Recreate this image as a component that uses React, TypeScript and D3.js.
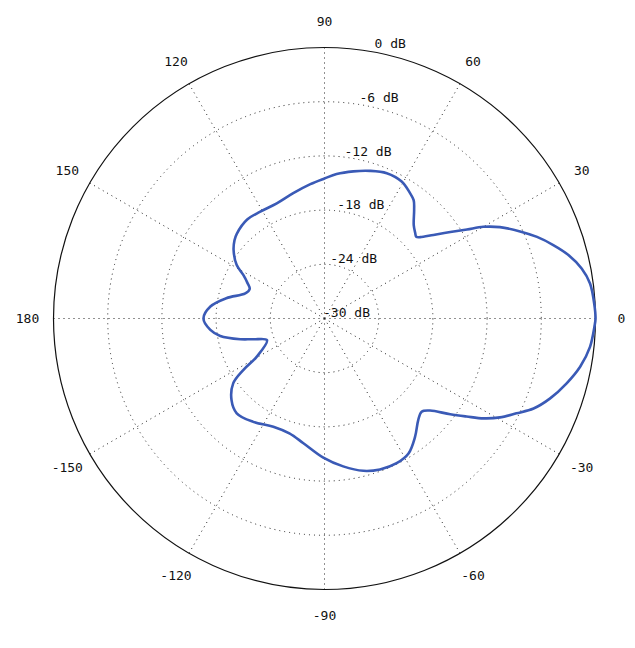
import React from "react";
import * as d3 from "d3";

const angleTicks = [0, 30, 60, 90, 120, 150, 180, -150, -120, -90, -60, -30];
const dbTicks = [-30, -24, -18, -12, -6, 0];

const patternAngles = [
  0, 3, 7.5, 11, 14.6, 17.8, 21, 24, 27.5, 30, 32, 34.5, 37.5, 40.4, 41.7, 43.3, 46.3, 50.5, 53,
  55.7, 60.6, 66.8, 72.9, 78.9, 85.2, 90, 96, 104, 112.5, 121, 128, 136, 139, 143, 148.6, 151.8,
  155.2, 158.5, 162.4, 168.3, 174, 180, 185.7, 189.5, 193.8, 196.2, 200.6, 209.4, 212.4, 215.4,
  221.3, 227.2, 235.4, 244.7, 253, 260.4, 269.5, 277.2, 284.3, 290.2, 296.5, 301.9, 307.4, 312.7,
  316.2, 318.9, 322.7, 325.4, 327.9, 330.6, 333.7, 336.7, 340.5, 345, 349.3, 353.9, 358.3,
];
const patternGain = [
  0, -0.09, -0.35, -1.0, -2.1, -3.4, -4.8, -6.3, -8.1, -9.7, -11.4, -13.1, -14.8, -16.1, -16.4,
  -16.2, -15.7, -14.4, -13.6, -13.2, -12.6, -12.5, -12.9, -13.4, -13.95, -14.5, -15.05, -15.7,
  -16.2, -16.2, -16.1, -16.5, -16.8, -17.4, -18.6, -19.8, -20.6, -21.1, -20.8, -18.9, -17.3,
  -16.6, -17.3, -18.3, -20.4, -21.75, -23.2, -21.4, -19.35, -17.6, -16.3, -15.7, -16.1, -16.75,
  -16.7, -16.0, -14.6, -13.5, -12.6, -12.2, -12.1, -12.4, -13.5, -14.7, -15.1, -14.5, -12.5,
  -10.9, -9.2, -7.7, -6.3, -4.8, -3.5, -2.25, -1.2, -0.44, -0.1,
];

export default function App() {
  const W = 635;
  const H = 648;
  const cx = 324.5;
  const cy = 318.5;
  const R = 271;
  const r = d3.scaleLinear().domain([-30, 0]).range([0, R]);
  const rad = (deg: number) => (deg * Math.PI) / 180;

  const data = patternAngles.map((a, i) => ({ a, g: patternGain[i] }));
  const line = d3
    .lineRadial<{ a: number; g: number }>()
    .angle((d) => Math.PI / 2 - rad(d.a))
    .radius((d) => r(d.g))
    .curve(d3.curveCatmullRomClosed.alpha(0.5));

  const font = "'DejaVu Sans Mono', monospace";

  return (
    <svg
      width={W}
      height={H}
      style={{ position: "absolute", left: 0, top: 0, background: "#fff" }}
    >
      <g transform={`translate(${cx},${cy})`}>
        {dbTicks.slice(1, -1).map((t) => (
          <circle
            key={t}
            r={r(t)}
            fill="none"
            stroke="#222"
            strokeWidth={1}
            strokeDasharray="1 4"
          />
        ))}
        {angleTicks.map((a) => (
          <line
            key={a}
            x1={0}
            y1={0}
            x2={R * Math.cos(rad(a))}
            y2={-R * Math.sin(rad(a))}
            stroke="#222"
            strokeWidth={1}
            strokeDasharray="1 4"
          />
        ))}
        <circle r={R} fill="none" stroke="#111" strokeWidth={1.2} />
        <path d={line(data) || ""} fill="none" stroke="#3a5ab6" strokeWidth={2.6} strokeLinejoin="round" />
        {angleTicks.map((a) => (
          <text
            key={a}
            x={297 * Math.cos(rad(a))}
            y={-297 * Math.sin(rad(a))}
            textAnchor="middle"
            dominantBaseline="central"
            fontFamily={font}
            fontSize={13}
            fill="#111"
          >
            {a}
          </text>
        ))}
        {dbTicks.map((t, k) => (
          <text
            key={t}
            x={45.5 + r(t) * Math.cos(rad(82.4))}
            y={-1.8 - r(t) * Math.sin(rad(82.4))}
            textAnchor="end"
            fontFamily={font}
            fontSize={13}
            fill="#111"
          >
            {`${t} dB`}
          </text>
        ))}
      </g>
    </svg>
  );
}
